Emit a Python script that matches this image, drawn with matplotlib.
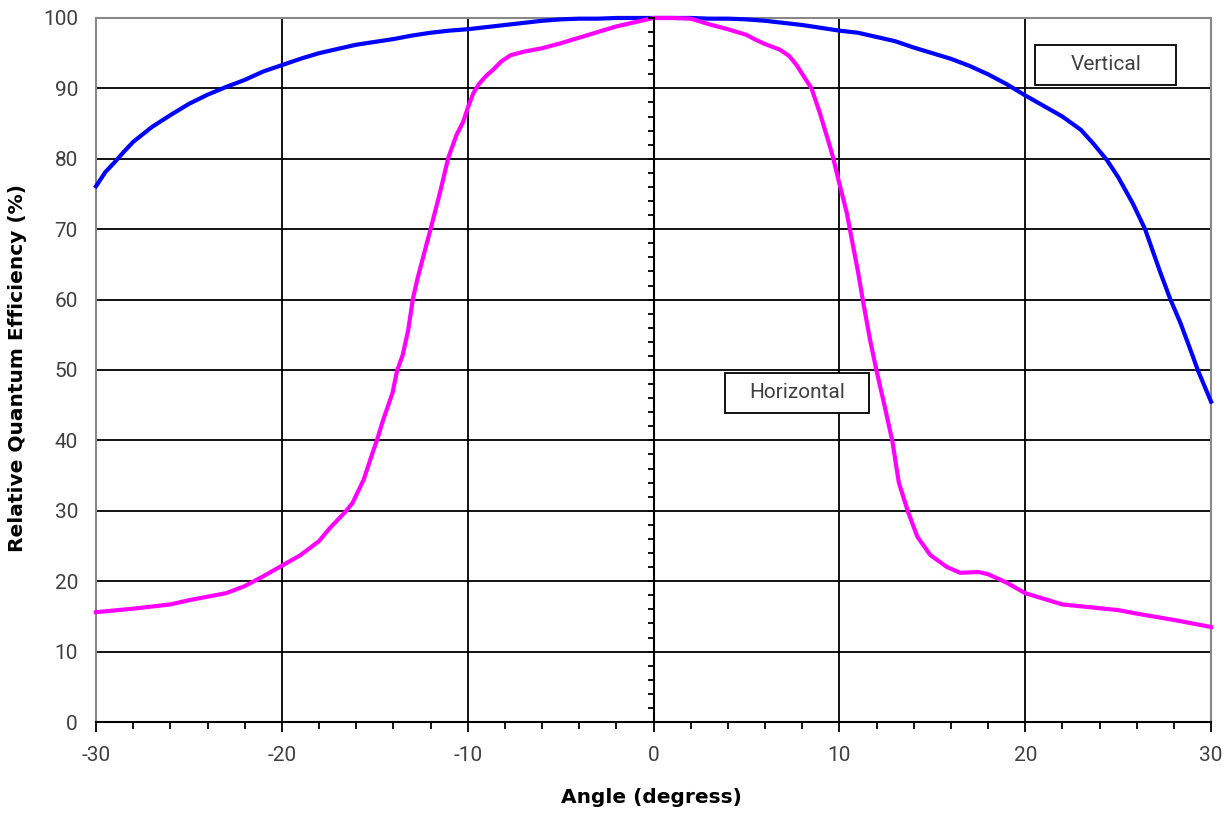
import matplotlib.pyplot as plt
from matplotlib.patches import Rectangle
from matplotlib.ticker import MultipleLocator, NullFormatter, FuncFormatter

# 角度 (deg) と相対量子効率 (%)
vert_angle = [-30, -29.5, -29, -28.5, -28, -27, -26, -25, -24, -23, -22, -21, -20,
              -19, -18, -17, -16, -15, -14, -13, -12, -11, -10, -9, -8, -7, -6, -5,
              -4, -3, -2, -1, 0, 1, 2, 3, 4, 5, 6, 7, 8, 9, 10, 11, 12, 13, 14, 15,
              16, 17, 18, 19, 20, 21, 22, 23, 23.65, 24.4, 25.0, 25.8, 26.45, 27.25,
              27.8, 28.35, 28.9, 29.3, 30]
vert_qe = [76.1, 78.1, 79.5, 81.0, 82.4, 84.5, 86.2, 87.8, 89.1, 90.2, 91.2, 92.4, 93.3,
           94.2, 95.0, 95.6, 96.2, 96.6, 97.0, 97.5, 97.9, 98.2, 98.4, 98.7, 99.0, 99.3,
           99.6, 99.8, 99.9, 99.9, 100, 100, 100, 100, 100, 99.9, 99.9, 99.8, 99.6, 99.3,
           99.0, 98.6, 98.2, 97.9, 97.3, 96.7, 95.8, 95.0, 94.2, 93.2, 92.0, 90.6, 89.0,
           87.5, 86.0, 84.1, 82.2, 79.8, 77.4, 73.6, 70.0, 64.0, 60.1, 56.7, 52.8, 49.9,
           45.5]

horiz_angle = [-30, -28, -26, -25, -24, -23, -22, -21, -20, -19, -18, -17.4, -16.6,
               -16.2, -15.6, -15.2, -14.9, -14.55, -14.05, -13.8, -13.5, -13.2, -12.95,
               -12.7, -12.3, -12.0, -11.5, -11.05, -10.6, -10.25, -10.0, -9.7, -9.4,
               -9.0, -8.65, -8.2, -7.7, -7, -6, -5, -4, -3, -2, -1, 0, 1, 2, 3, 4, 5,
               5.5, 6, 6.8, 7.3, 7.7, 8.5, 8.95, 9.35, 9.65, 9.95, 10.4, 10.6, 11.0,
               11.25, 11.65, 12.0, 12.45, 12.85, 13.2, 13.7, 14.2, 14.9, 15.8, 16.5,
               17.5, 18, 19, 20, 21, 22, 25, 26, 28, 30]
horiz_qe = [15.6, 16.1, 16.7, 17.3, 17.8, 18.3, 19.3, 20.7, 22.2, 23.7, 25.7, 27.6, 29.8,
            31.1, 34.4, 37.6, 39.9, 42.9, 46.7, 49.9, 52.1, 55.7, 60.1, 63.0, 67.0, 70.0,
            75.1, 80.1, 83.4, 85.2, 87.2, 89.3, 90.6, 91.8, 92.6, 93.8, 94.7, 95.2, 95.7,
            96.4, 97.2, 98.0, 98.8, 99.4, 100, 100, 99.9, 99.1, 98.4, 97.6, 96.9, 96.3,
            95.5, 94.6, 93.3, 90.0, 86.5, 83.0, 80.3, 77.0, 72.3, 69.5, 64.0, 60.1, 54.3,
            49.9, 44.7, 39.9, 34.0, 29.8, 26.3, 23.7, 22.0, 21.2, 21.3, 21.0, 19.8, 18.3,
            17.5, 16.7, 15.9, 15.4, 14.5, 13.5]

font = 'Roboto'
label_font = 'DejaVu Sans'
text_color = '#404040'

fig = plt.figure(figsize=(12.31, 8.13), dpi=100)
ax = fig.add_axes([0.078, 0.1119, 0.9058, 0.866])

ax.plot(vert_angle, vert_qe, color='#0000ff', lw=3, zorder=5, clip_on=False)
ax.plot(horiz_angle, horiz_qe, color='#ff00ff', lw=3, zorder=5, clip_on=False)

ax.set_xlim(-30, 30)
ax.set_ylim(0, 100)
ax.xaxis.set_major_locator(MultipleLocator(10))
ax.xaxis.set_minor_locator(MultipleLocator(2))
ax.yaxis.set_major_locator(MultipleLocator(10))
ax.xaxis.set_major_formatter(FuncFormatter(lambda v, p: f'{v:.0f}'.replace('\u2212', '-')))
ax.grid(True, which='major', color='black', lw=1.3, zorder=1)

for side in ['left', 'top', 'right']:
    ax.spines[side].set_color('#888888')
    ax.spines[side].set_linewidth(1.5)
ax.spines['bottom'].set_color('black')
ax.spines['bottom'].set_linewidth(1.5)

ax.tick_params(axis='x', which='major', direction='out', length=7, width=1.3,
               color='black', labelsize=15, labelcolor=text_color, pad=10)
ax.tick_params(axis='x', which='minor', direction='out', length=5, width=1.3, color='black')
ax.tick_params(axis='y', which='major', length=0, labelsize=15, labelcolor=text_color, pad=13)
for lbl in ax.get_xticklabels() + ax.get_yticklabels():
    lbl.set_fontfamily(font)

# 中央の縦軸（目盛り付き）
ax2 = ax.twinx()
ax2.set_ylim(0, 100)
for side in ['right', 'top', 'bottom']:
    ax2.spines[side].set_visible(False)
ax2.spines['left'].set_position(('data', 0))
ax2.spines['left'].set_color('black')
ax2.spines['left'].set_linewidth(1.5)
ax2.yaxis.set_ticks_position('left')
ax2.yaxis.set_major_locator(MultipleLocator(10))
ax2.yaxis.set_minor_locator(MultipleLocator(2))
ax2.yaxis.set_major_formatter(NullFormatter())
ax2.tick_params(axis='y', which='both', direction='out', length=4, width=1.3, color='black')

ax.set_xlabel('Angle (degress)', fontfamily=label_font, fontweight='bold', fontsize=14.5)
ax.set_ylabel('Relative Quantum Efficiency (%)', fontfamily=label_font, fontweight='bold',
              fontsize=14.5)
ax.xaxis.label.set_va('center')
ax.yaxis.label.set_va('center')
ax.xaxis.set_label_coords(0.498, -0.1065)
ax.yaxis.set_label_coords(-0.070, 0.503)

# ラベル枠
ax.add_patch(Rectangle((20.53, 90.5), 7.59, 5.7, facecolor='white', edgecolor='black',
                       lw=1.3, zorder=6))
ax.text(24.33, 93.35, 'Vertical', ha='center', va='center', fontsize=15,
        fontfamily=font, color=text_color, zorder=7)
ax.add_patch(Rectangle((3.85, 43.9), 7.75, 5.7, facecolor='white', edgecolor='black',
                       lw=1.3, zorder=6))
ax.text(7.72, 46.75, 'Horizontal', ha='center', va='center', fontsize=15,
        fontfamily=font, color=text_color, zorder=7)

plt.savefig('out.png', dpi=100)
plt.close()
